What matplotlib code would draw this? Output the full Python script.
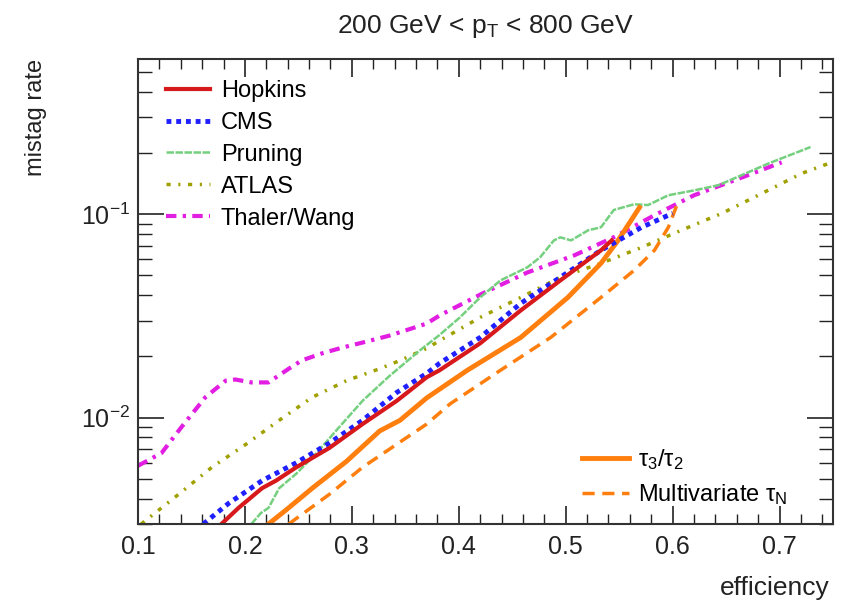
import matplotlib
matplotlib.use("Agg")
import matplotlib.pyplot as plt
from matplotlib.ticker import LogLocator, NullFormatter, MultipleLocator
from matplotlib.lines import Line2D

plt.rcParams['font.family'] = ['Liberation Sans', 'DejaVu Sans']
plt.rcParams['mathtext.fontset'] = 'custom'
plt.rcParams['mathtext.rm'] = 'Liberation Sans'
plt.rcParams['mathtext.it'] = 'Liberation Sans:italic'
plt.rcParams['mathtext.default'] = 'regular'

# efficiency / mistag rate curves
hop_x = [0.178, 0.194, 0.216, 0.229, 0.248, 0.279, 0.310, 0.342, 0.370, 0.382, 0.420, 0.458, 0.495, 0.533, 0.543]
hop_y = [0.0030, 0.0036, 0.0045, 0.0049, 0.0057, 0.0071, 0.0093, 0.0121, 0.0158, 0.0171, 0.0232, 0.0337, 0.0473, 0.0665, 0.0744]

cms_x = [0.161, 0.185, 0.216, 0.248, 0.279, 0.310, 0.342, 0.370, 0.382, 0.420, 0.458, 0.495, 0.533, 0.571, 0.600]
cms_y = [0.0030, 0.0038, 0.0049, 0.0060, 0.0075, 0.0097, 0.0133, 0.0165, 0.0185, 0.0248, 0.0365, 0.0490, 0.0665, 0.0863, 0.101]

prn_x = [0.206, 0.215, 0.222, 0.232, 0.248, 0.267, 0.285, 0.310, 0.335, 0.364, 0.382, 0.401, 0.420, 0.439,
         0.464, 0.476, 0.489, 0.495, 0.505, 0.521, 0.533, 0.545, 0.564, 0.577, 0.596, 0.620, 0.643, 0.690, 0.729]
prn_y = [0.0030, 0.0034, 0.0036, 0.0045, 0.0053, 0.0067, 0.0086, 0.0121, 0.0160, 0.0215, 0.0255, 0.0311, 0.0390, 0.0473,
         0.0548, 0.0614, 0.0744, 0.0770, 0.0744, 0.0834, 0.0863, 0.105, 0.112, 0.111, 0.124, 0.131, 0.139, 0.178, 0.214]

atl_x = [0.103, 0.138, 0.169, 0.201, 0.232, 0.263, 0.295, 0.326, 0.345, 0.370, 0.382, 0.420, 0.458, 0.495,
         0.533, 0.571, 0.608, 0.646, 0.684, 0.721, 0.750]
atl_y = [0.0030, 0.0042, 0.0057, 0.0074, 0.0097, 0.0126, 0.0152, 0.0174, 0.0191, 0.0219, 0.0239, 0.0311, 0.0390, 0.0490,
         0.0574, 0.0687, 0.0834, 0.101, 0.127, 0.159, 0.181]

tw_x = [0.100, 0.122, 0.140, 0.163, 0.182, 0.191, 0.206, 0.222, 0.241, 0.253, 0.272, 0.291, 0.310, 0.335,
        0.370, 0.382, 0.423, 0.464, 0.508, 0.545, 0.583, 0.620, 0.658, 0.702]
tw_y = [0.0058, 0.0067, 0.0089, 0.0126, 0.0152, 0.0154, 0.0149, 0.0149, 0.0174, 0.0191, 0.0207, 0.0221, 0.0234, 0.0253,
        0.0290, 0.0318, 0.0410, 0.0517, 0.0628, 0.0771, 0.0989, 0.124, 0.147, 0.180]

t32_x = [0.222, 0.238, 0.263, 0.295, 0.326, 0.345, 0.370, 0.408, 0.458, 0.502, 0.533, 0.549, 0.569]
t32_y = [0.0030, 0.0035, 0.0045, 0.0061, 0.0086, 0.0097, 0.0125, 0.0171, 0.0248, 0.0390, 0.0574, 0.0744, 0.108]

mva_x = [0.241, 0.279, 0.310, 0.342, 0.370, 0.392, 0.439, 0.486, 0.533, 0.564, 0.583, 0.596, 0.605]
mva_y = [0.0030, 0.0042, 0.0057, 0.0074, 0.0093, 0.0117, 0.0171, 0.0248, 0.0390, 0.0530, 0.0665, 0.0863, 0.1145]

fig = plt.figure(figsize=(8.5, 6.05), dpi=100)
ax = fig.add_axes([0.1624, 0.1339, 0.8176, 0.7686])

c_red = '#d7191c'
c_blue = '#1f1fff'
c_green = '#74d07e'
c_olive = '#a0a000'
c_mag = '#e21ee2'
c_orange = '#ff7f0e'

st_cms = (0, (1, 1))
st_prn = (0, (3, 0.6))
st_atl = (0, (1.2, 2.2, 0.6, 2.2))
st_tw = (0, (2.5, 1.5, 0.8, 1.5))
st_mva = (0, (3.5, 2.2))

ax.plot(atl_x, atl_y, color=c_olive, lw=2.5, ls=st_atl)
ax.plot(tw_x, tw_y, color=c_mag, lw=3, ls=st_tw)
ax.plot(prn_x, prn_y, color=c_green, lw=1.8, ls=st_prn)
ax.plot(mva_x, mva_y, color=c_orange, lw=2.5, ls=st_mva)
ax.plot(t32_x, t32_y, color=c_orange, lw=3.5)
ax.plot(cms_x, cms_y, color=c_blue, lw=3.5, ls=st_cms)
ax.plot(hop_x, hop_y, color=c_red, lw=3)

ax.set_yscale('log')
ax.set_xlim(0.1, 0.75)
ax.set_ylim(0.003, 0.58)

ax.xaxis.set_major_locator(MultipleLocator(0.1))
ax.xaxis.set_minor_locator(MultipleLocator(0.02))
ax.yaxis.set_major_locator(LogLocator(base=10))
ax.yaxis.set_minor_locator(LogLocator(base=10, subs=range(2, 10)))
ax.yaxis.set_minor_formatter(NullFormatter())
ax.xaxis.set_major_formatter(plt.FuncFormatter(lambda v, p: f'{v:.1f}'))

ax.tick_params(which='both', direction='in', top=True, right=True, labelsize=18, colors='#222222')
ax.tick_params(axis='x', which='major', length=13, width=1.2, pad=8)
ax.tick_params(axis='x', which='minor', length=7, width=1.0)
ax.tick_params(axis='y', which='major', length=19, width=1.2, pad=6)
ax.tick_params(axis='y', which='minor', length=10, width=1.0)
for s in ax.spines.values():
    s.set_linewidth(1.5)
    s.set_color('#333333')

ax.set_title('200 GeV < p$_{T}$ < 800 GeV', fontsize=19, pad=19, color='#222222')
ax.set_ylabel('mistag rate', loc='top', fontsize=17, color='#222222')
ax.yaxis.set_label_coords(-0.131, 1.0)
ax.set_xlabel('efficiency', loc='right', fontsize=19, color='#222222')
ax.xaxis.set_label_coords(0.9957, -0.112)

h1 = [Line2D([], [], color=c_red, lw=3),
      Line2D([], [], color=c_blue, lw=3.5, ls=st_cms),
      Line2D([], [], color=c_green, lw=1.8, ls=st_prn),
      Line2D([], [], color=c_olive, lw=2.5, ls=st_atl),
      Line2D([], [], color=c_mag, lw=3, ls=st_tw)]
l1 = ax.legend(h1, ['Hopkins', 'CMS', 'Pruning', 'ATLAS', 'Thaler/Wang'],
               loc='upper left', bbox_to_anchor=(0.04, 0.955), frameon=False, fontsize=17,
               handlelength=1.86, handletextpad=0.47, labelspacing=0.42, borderpad=0, borderaxespad=0)
ax.add_artist(l1)

h2 = [Line2D([], [], color=c_orange, lw=3.5),
      Line2D([], [], color=c_orange, lw=2.5, ls=st_mva)]
ax.legend(h2, [r'$\tau_3/\tau_2$', r'Multivariate $\tau_N$'],
          loc='upper left', bbox_to_anchor=(0.639, 0.166), frameon=False, fontsize=17,
          handlelength=2.0, handletextpad=0.35, labelspacing=0.45, borderpad=0, borderaxespad=0)

fig.savefig('out.png', dpi=100)
